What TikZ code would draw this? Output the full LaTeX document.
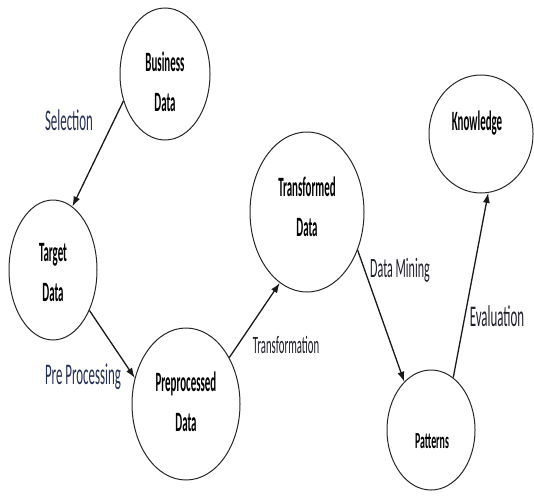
\documentclass[tikz,border=0pt]{standalone}
\usepackage{fontspec}
\setmainfont{Carlito}
\newfontfamily\nodefont[FakeStretch=0.39]{Carlito}
\newfontfamily\patfont[FakeStretch=0.43]{Carlito}
\newfontfamily\labfont[FakeStretch=0.43]{Carlito}
\usetikzlibrary{shapes.geometric,arrows.meta}
\definecolor{labnavy}{RGB}{38,48,84}
\definecolor{labdark}{RGB}{30,30,40}
\begin{document}
\begin{tikzpicture}[x=1pt,y=-1pt,
  ell/.style={draw=black!85,line width=1pt,ellipse,inner sep=0pt},
  ntext/.style={font=\nodefont\bfseries\fontsize{28}{40}\selectfont,align=center,inner sep=0pt},
  ptext/.style={font=\patfont\bfseries\fontsize{23}{26}\selectfont,align=center,inner sep=0pt},
  lab/.style={font=\labfont\fontsize{30}{34}\selectfont,inner sep=0pt,text=labdark},
  conn/.style={draw=black!90,line width=1.3pt,-{Latex[length=10pt,width=7pt]}}]
\useasboundingbox (0,0) rectangle (534,495);

% ellipses
\node[ell,minimum width=90pt,minimum height=132pt]  (bus) at (165,74)  {};
\node[ell,minimum width=88pt,minimum height=140pt]  (tgt) at (53,270)  {};
\node[ell,minimum width=108pt,minimum height=152pt] (pre) at (186,404) {};
\node[ell,minimum width=114pt,minimum height=160pt] (trf) at (307,212) {};
\node[ell,minimum width=104pt,minimum height=118pt] (knw) at (481,134) {};
\node[ell,minimum width=88pt,minimum height=120pt]  (pat) at (431,430) {};

% node texts
\node[ntext] (bust) at (165,82)  {Business\\Data};
\node[ntext] (tgtt) at (53,273)  {Target\\Data};
\node[ntext] (pret) at (186,402) {Preprocessed\\Data};
\node[ntext] (trft) at (307,207) {Transformed\\Data};
\node[ntext] (knwt) at (477,123) {Knowledge};
\node[ptext] (patt) at (432,441) {Patterns};

% connectors
\draw[conn] (bus.213) -- (tgt.73);
\draw[conn] (tgt.312) -- (pre.153);
\draw[conn] (pre.47)  -- (trf.249);
\draw[conn] (trf.323) -- (pat.119);
\draw[conn] (pat.67)  -- (knw.277);

% labels
\node[lab,text=labnavy] (lsel) at (69,120) {Selection};
\node[lab,text=labnavy] (lpre) at (83,377) {Pre Processing};
\node[lab,font=\labfont\fontsize{25}{29}\selectfont] (ltrf) at (286,345) {Transformation};
\node[lab,font=\labfont\fontsize{28}{32}\selectfont] (ldm) at (400,270) {Data Mining};
\node[lab] (lev) at (497,316) {Evaluation};
\end{tikzpicture}
\end{document}
